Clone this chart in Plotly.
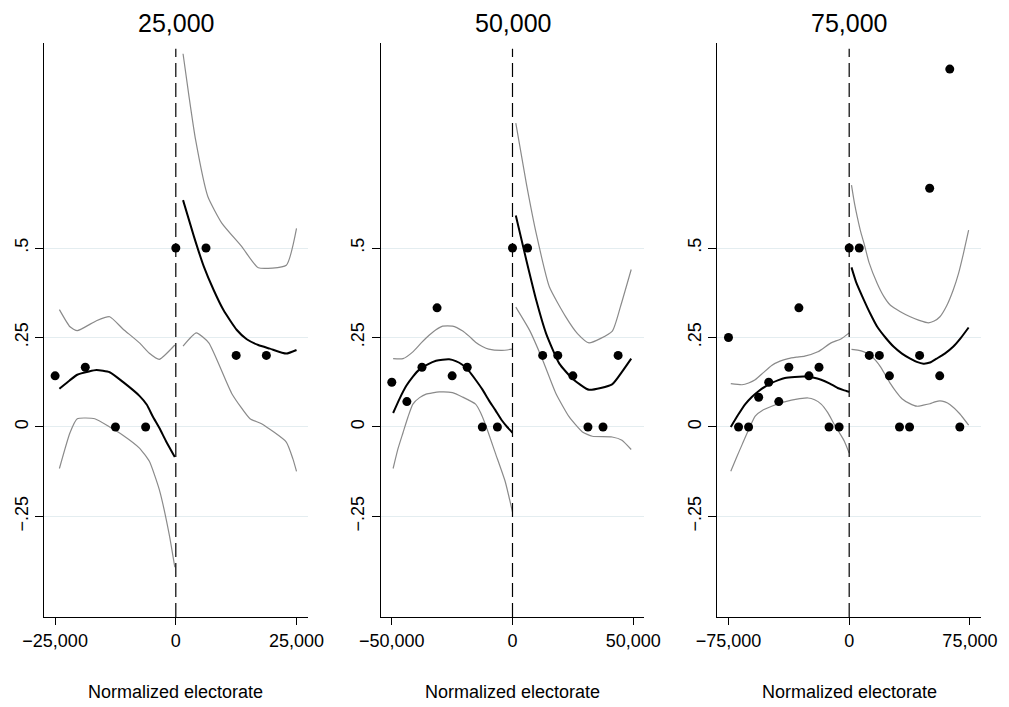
import plotly.graph_objects as go

# ---------------- data ----------------
panel_titles = ["25,000", "50,000", "75,000"]
x_tick_vals = [[-25000, 0, 25000], [-50000, 0, 50000], [-75000, 0, 75000]]
x_tick_text = [["\u221225,000", "0", "25,000"], ["\u221250,000", "0", "50,000"], ["\u221275,000", "0", "75,000"]]
x_ranges = [[-27300, 27300], [-54600, 54600], [-81900, 81900]]
y_tick_vals = [-0.25, 0, 0.25, 0.5]
y_tick_text = ["\u2212.25", "0", ".25", ".5"]
y_range = [-0.531, 1.073]
x_title = "Normalized electorate"

# Panel 1 (25,000)
p1_pts_x = [-25000, -18750, -12500, -6250, 0, 6250, 12500, 18750]
p1_pts_y = [0.143, 0.167, 0.0, 0.0, 0.5, 0.5, 0.2, 0.2]
p1_fitL_x = [-24110, -22000, -20410, -18000, -16440, -13700, -10960, -7530, -6000, -4790, -3400, -2050, -205]
p1_fitL_y = [0.107, 0.130, 0.146, 0.155, 0.159, 0.153, 0.126, 0.087, 0.062, 0.030, -0.003, -0.039, -0.084]
p1_ciUL_x = [-24110, -21920, -20410, -16440, -13700, -10960, -7530, -5480, -3420, -205]
p1_ciUL_y = [0.328, 0.280, 0.269, 0.297, 0.308, 0.274, 0.235, 0.206, 0.189, 0.229]
p1_ciLL_x = [-24110, -21920, -20410, -16780, -13700, -10960, -7530, -5480, -3420, -1370, -205]
p1_ciLL_y = [-0.116, -0.016, 0.023, 0.023, 0.0, -0.023, -0.059, -0.096, -0.175, -0.30, -0.392]
p1_fitR_x = [1500, 3760, 5810, 7860, 9900, 12640, 14690, 17080, 19470, 22880, 25000]
p1_fitR_y = [0.634, 0.532, 0.448, 0.382, 0.326, 0.271, 0.245, 0.229, 0.219, 0.205, 0.215]
p1_ciUR_x = [1500, 2730, 4100, 6630, 9560, 13660, 17080, 22880, 25000]
p1_ciUR_y = [1.043, 0.924, 0.802, 0.644, 0.569, 0.504, 0.445, 0.452, 0.555]
p1_ciLR_x = [1500, 4240, 6830, 11610, 15370, 17760, 22880, 24250, 25000]
p1_ciLR_y = [0.226, 0.263, 0.235, 0.093, 0.023, 0.009, -0.042, -0.089, -0.124]

# Panel 2 (50,000)
p2_pts_x = [-50000, -43750, -37500, -31250, -25000, -18750, -12500, -6250,
            0, 6250, 12500, 18750, 25000, 31250, 37500, 43750]
p2_pts_y = [0.125, 0.071, 0.167, 0.333, 0.143, 0.167, 0.0, 0.0,
            0.5, 0.5, 0.2, 0.2, 0.143, 0.0, 0.0, 0.2]
p2_fitL_x = [-49450, -46700, -43990, -41250, -38520, -35100, -31690, -28960, -26230, -23500, -20770, -18000,
             -15300, -12500, -9840, -7100, -4370, -2200, 0]
p2_fitL_y = [0.039, 0.080, 0.115, 0.141, 0.161, 0.175, 0.185, 0.188, 0.189, 0.184, 0.174, 0.156,
             0.132, 0.105, 0.075, 0.047, 0.018, 0.000, -0.016]
p2_ciUL_x = [-49450, -45360, -41260, -37800, -34430, -31700, -28960, -24860, -20770, -18000, -15300, -12500,
             -9840, -4370, 0]
p2_ciUL_y = [0.191, 0.191, 0.21, 0.235, 0.257, 0.272, 0.282, 0.282, 0.269, 0.254, 0.237, 0.225,
             0.2175, 0.214, 0.2175]
p2_ciLL_x = [-49450, -47400, -45360, -43300, -41260, -38500, -35790, -30330, -24860, -20770, -15300, -13200,
             -11200, -7100, -3000, 0]
p2_ciLL_y = [-0.116, -0.060, -0.016, 0.028, 0.064, 0.082, 0.092, 0.098, 0.096, 0.084, 0.064, 0.040,
             0.007, -0.073, -0.153, -0.238]
p2_fitR_x = [1370, 5740, 9840, 13930, 19400, 24860, 31690, 41250, 45340, 49170]
p2_fitR_y = [0.591, 0.466, 0.354, 0.261, 0.177, 0.135, 0.104, 0.119, 0.154, 0.191]
p2_ciUR_x = [1370, 5740, 9840, 15300, 22130, 26910, 31690, 41250, 44660, 49170]
p2_ciUR_y = [0.849, 0.680, 0.540, 0.391, 0.307, 0.261, 0.235, 0.267, 0.335, 0.44]
p2_ciLR_x = [1370, 7100, 12570, 18030, 23500, 28960, 33060, 41250, 45340, 49170]
p2_ciLR_y = [0.335, 0.27, 0.186, 0.093, 0.028, -0.014, -0.026, -0.028, -0.037, -0.063]

# Panel 3 (75,000)
p3_pts_x = [-75000, -68750, -62500, -56250, -50000, -43750, -37500, -31250, -25000, -18750, -12500, -6250,
            0, 6250, 12500, 18750, 25000, 31250, 37500, 43750, 50000, 56250, 62500, 68750]
p3_pts_y = [0.25, 0.0, 0.0, 0.083, 0.125, 0.071, 0.167, 0.333, 0.143, 0.167, 0.0, 0.0,
            0.5, 0.5, 0.2, 0.2, 0.143, 0.0, 0.0, 0.2, 0.667, 0.143, 1.0, 0.0]
p3_fitL_x = [-73570, -69000, -64550, -60500, -56350, -52200, -48160, -44000, -39960, -33800, -27660, -22500,
             -17420, -12300, -7170, -3500, 0]
p3_fitL_y = [0.0, 0.034, 0.064, 0.084, 0.1, 0.113, 0.123, 0.131, 0.137, 0.140, 0.141, 0.138,
             0.132, 0.122, 0.109, 0.103, 0.098]
p3_ciUL_x = [-73570, -66600, -62500, -58400, -53300, -48160, -43000, -37910, -32800, -27660, -19470, -11270,
             -5120, 0]
p3_ciUL_y = [0.121, 0.118, 0.123, 0.132, 0.152, 0.172, 0.184, 0.191, 0.195, 0.198, 0.21, 0.235,
             0.246, 0.263]
p3_ciLL_x = [-73570, -70000, -66600, -62500, -58400, -53300, -48160, -41900, -35860, -30700, -25610, -21500,
             -17420, -13300, -9220, -6100, -3070, 0]
p3_ciLL_y = [-0.124, -0.085, -0.05, -0.008, 0.03, 0.048, 0.058, 0.068, 0.075, 0.079, 0.081, 0.076,
             0.064, 0.040, 0.007, -0.016, -0.039, -0.073]
p3_fitR_x = [1430, 4300, 9230, 13300, 17430, 22500, 27680, 32800, 37930, 42000, 46130, 50200, 54330, 59400,
             64580, 69400, 74210]
p3_fitR_y = [0.446, 0.405, 0.354, 0.315, 0.28, 0.25, 0.224, 0.205, 0.191, 0.182, 0.177, 0.180, 0.191, 0.205,
             0.224, 0.249, 0.278]
p3_ciUR_x = [1430, 3300, 5120, 7170, 9230, 12300, 17430, 21500, 25630, 31800, 37930, 43500, 49200, 52800,
             56380, 60500, 64580, 68000, 71000, 74210]
p3_ciUR_y = [0.676, 0.625, 0.585, 0.545, 0.513, 0.46, 0.401, 0.365, 0.340, 0.322, 0.308, 0.298, 0.291, 0.296,
             0.308, 0.338, 0.382, 0.43, 0.485, 0.55]
p3_ciLR_x = [1430, 5300, 9230, 13330, 16400, 19480, 22500, 25630, 29200, 32800, 37400, 42030, 46100, 50230,
             53300, 56380, 59500, 62530, 68680, 74210]
p3_ciLR_y = [0.217, 0.215, 0.21, 0.2, 0.186, 0.168, 0.145, 0.121, 0.098, 0.079, 0.066, 0.058, 0.061, 0.065,
             0.070, 0.073, 0.070, 0.063, 0.037, 0.005]

panels = [
    dict(pts=(p1_pts_x, p1_pts_y),
         fits=[(p1_fitL_x, p1_fitL_y), (p1_fitR_x, p1_fitR_y)],
         cis=[(p1_ciUL_x, p1_ciUL_y), (p1_ciLL_x, p1_ciLL_y), (p1_ciUR_x, p1_ciUR_y), (p1_ciLR_x, p1_ciLR_y)]),
    dict(pts=(p2_pts_x, p2_pts_y),
         fits=[(p2_fitL_x, p2_fitL_y), (p2_fitR_x, p2_fitR_y)],
         cis=[(p2_ciUL_x, p2_ciUL_y), (p2_ciLL_x, p2_ciLL_y), (p2_ciUR_x, p2_ciUR_y), (p2_ciLR_x, p2_ciLR_y)]),
    dict(pts=(p3_pts_x, p3_pts_y),
         fits=[(p3_fitL_x, p3_fitL_y), (p3_fitR_x, p3_fitR_y)],
         cis=[(p3_ciUL_x, p3_ciUL_y), (p3_ciLL_x, p3_ciLL_y), (p3_ciUR_x, p3_ciUR_y), (p3_ciLR_x, p3_ciLR_y)]),
]

# ---------------- layout geometry (pixels) ----------------
W, H = 1009, 707
ML, MR, MT, MB = 40, 20, 43, 90
PW = W - ML - MR
PH = H - MT - MB
panel_px = [(40, 307), (381, 648), (722, 989)]
domains = [[(a - ML) / PW, (b - ML) / PW] for a, b in panel_px]

FONT = "Liberation Sans, Arial, Helvetica, sans-serif"
GRID = "#e4edf0"
CI_COLOR = "#8a8a8a"

fig = go.Figure()
layout = dict(
    width=W, height=H,
    margin=dict(l=ML, r=MR, t=MT, b=MB),
    paper_bgcolor="white", plot_bgcolor="white",
    showlegend=False,
    font=dict(family=FONT, size=18, color="black"),
)
annotations = []
shapes = []

for i, p in enumerate(panels):
    sfx = "" if i == 0 else str(i + 1)
    xa, ya = "x" + sfx, "y" + sfx
    for cx, cy in p["cis"]:
        fig.add_trace(go.Scatter(x=cx, y=cy, mode="lines", xaxis=xa, yaxis=ya,
                                 line=dict(color=CI_COLOR, width=1.2, shape="spline", smoothing=0.5),
                                 hoverinfo="skip"))
    for fx, fy in p["fits"]:
        fig.add_trace(go.Scatter(x=fx, y=fy, mode="lines", xaxis=xa, yaxis=ya,
                                 line=dict(color="black", width=2, shape="spline", smoothing=0.5),
                                 hoverinfo="skip"))
    fig.add_trace(go.Scatter(x=p["pts"][0], y=p["pts"][1], mode="markers", xaxis=xa, yaxis=ya,
                             marker=dict(color="black", size=9, line=dict(width=0))))

    layout["xaxis" + sfx] = dict(
        domain=domains[i], anchor=ya, range=x_ranges[i],
        tickmode="array", tickvals=x_tick_vals[i], ticktext=x_tick_text[i],
        ticks="outside", ticklen=7, tickwidth=1, tickcolor="black",
        showline=True, linecolor="black", linewidth=1.2,
        showgrid=False, zeroline=False,
        tickfont=dict(size=18, family=FONT, color="black"),
    )
    layout["yaxis" + sfx] = dict(
        domain=[0, 1], anchor=xa, range=y_range,
        tickmode="array", tickvals=y_tick_vals, ticktext=y_tick_text,
        tickangle=-90,
        ticks="outside", ticklen=8, tickwidth=1, tickcolor="black",
        showline=True, linecolor="black", linewidth=1.2,
        showgrid=True, gridcolor=GRID, gridwidth=1.2, zeroline=False,
        tickfont=dict(size=18, family=FONT, color="black"),
    )
    cx_paper = (domains[i][0] + domains[i][1]) / 2
    annotations.append(dict(text=panel_titles[i], xref="paper", yref="paper",
                            x=cx_paper, y=1 + (MT - 23) / PH, xanchor="center", yanchor="middle",
                            showarrow=False, font=dict(size=25, family=FONT, color="black")))
    annotations.append(dict(text=x_title, xref="paper", yref="paper",
                            x=cx_paper, y=-(692 - (H - MB)) / PH, xanchor="center", yanchor="middle",
                            showarrow=False, font=dict(size=18, family=FONT, color="black")))
    shapes.append(dict(type="line", xref=xa, yref=ya + " domain", x0=0, x1=0, y0=0, y1=0.99,
                       line=dict(color="black", width=1.2, dash="14px,6px")))

layout["annotations"] = annotations
layout["shapes"] = shapes
fig.update_layout(**layout)
fig.write_html(
    "out.html",
    config={"displayModeBar": False},
    post_script="document.body.style.margin='0';document.body.style.overflow='hidden';",
)
